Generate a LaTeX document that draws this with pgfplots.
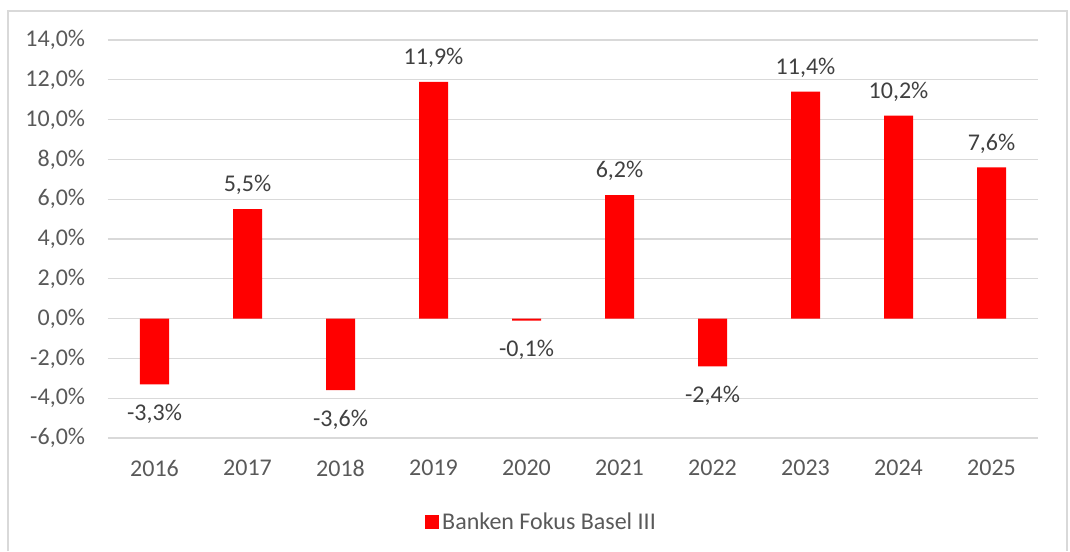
\documentclass[border=0pt]{standalone}
\usepackage{pgfplots}
\pgfplotsset{compat=1.18}
\usepackage{fontspec}
\setmainfont{Carlito}
\definecolor{txt}{HTML}{595959}
\definecolor{lbl}{HTML}{404040}
\definecolor{gridc}{HTML}{D9D9D9}
\definecolor{barred}{HTML}{FF0000}
\begin{document}
\begin{tikzpicture}
\path[use as bounding box] (-81pt,-84.75pt) rectangle (721.5pt,328.5pt);
\draw[gridc, line width=1pt] (-75pt,-84.75pt) -- (-75pt,320.25pt) -- (719.25pt,320.25pt) -- (719.25pt,-84.75pt);
\begin{axis}[
  scale only axis, width=697.5pt, height=298.5pt,
  ybar, bar width=21.75pt,
  xmin=-0.5, xmax=9.5, ymin=-6, ymax=14,
  ytick={-6,-4,...,14},
  xtick=data,
  xticklabels={2016,2017,2018,2019,2020,2021,2022,2023,2024,2025},
  axis line style={draw=none},
  major tick length=0pt,
  ymajorgrids, grid style={gridc, line width=1pt},
  /pgf/number format/assume math mode=true,
  /pgf/number format/.cd, fixed, fixed zerofill, precision=1, use comma,
  /pgfplots/.cd,
  yticklabel={\pgfmathprintnumber{\tick}\%},
  ticklabel style={font=\fontsize{18}{21}\selectfont, text=txt, inner sep=0pt},
  yticklabel style={anchor=east, xshift=-17pt},
  xticklabel style={anchor=center, yshift=-22.5pt},
  nodes near coords={\pgfmathprintnumber{\pgfplotspointmeta}\%},
  nodes near coords align={center},
  visualization depends on={y \as \yval},
  every node near coord/.append style={font=\fontsize{18}{21}\selectfont, text=lbl, inner sep=0pt, anchor=center,
    yshift={(\yval<0)?(-22):(18)}},
  legend style={at={(0.4667,-0.211)}, anchor=center, draw=none, fill=none,
    font=\fontsize{18}{21}\selectfont, text=txt, inner sep=0pt,
    nodes={inner xsep=2.25pt, inner ysep=0pt}},
  legend image code/.code={\fill[barred] (0pt,-5.25pt) rectangle (10.5pt,5.25pt);},
]
\addplot[fill=barred, draw=none] coordinates {
(0,-3.3) (1,5.5) (2,-3.6) (3,11.9) (4,-0.1) (5,6.2) (6,-2.4) (7,11.4) (8,10.2) (9,7.6)};
\addlegendentry{Banken Fokus Basel III}
\end{axis}
\end{tikzpicture}
\end{document}
